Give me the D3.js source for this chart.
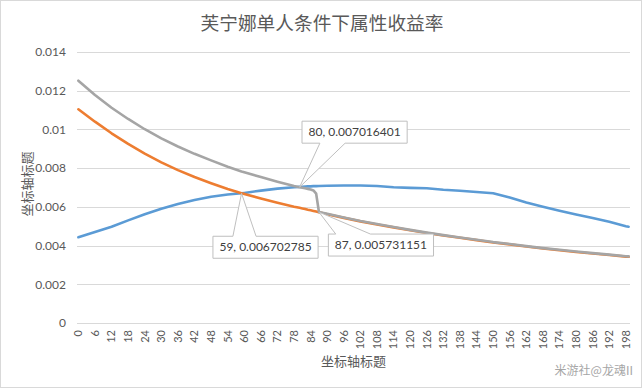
<!DOCTYPE html>
<html>
<head>
<meta charset="utf-8">
<script src="https://cdn.jsdelivr.net/npm/d3@7/dist/d3.min.js"></script>
<style>
body { margin: 0; background: #fff; }
svg { display: block; }
.cjk { font-family: "Noto Sans CJK SC", sans-serif; fill: #595959; }
.num { font-family: Lato, "Liberation Sans", sans-serif; fill: #595959; }
</style>
</head>
<body>
<svg id="chart" width="644" height="389"></svg>
<script>
// categories on the x axis (0..199), only every 6th one gets a label
const categories = d3.range(0, 200);
const xTickLabels = d3.range(0, 200, 6);
const yTicks = [0, 0.002, 0.004, 0.006, 0.008, 0.01, 0.012, 0.014];

const sampleIdx = [0, 6, 12, 18, 24, 30, 36, 42, 48, 54, 59, 60, 66, 72, 78, 80, 81, 82, 83, 84, 85, 86, 87,
    90, 96, 102, 108, 114, 120, 126, 132, 138, 144, 150, 156, 162, 168, 174, 180, 186, 192, 198, 199];

const blueValues = [0.00443, 0.00470, 0.00497, 0.00530, 0.00562, 0.00590, 0.00615, 0.00635, 0.00652, 0.00664,
    0.006703, 0.00672, 0.00684, 0.00694, 0.00701, 0.00703, 0.00704, 0.00705, 0.00706, 0.00706, 0.00707, 0.00707, 0.00708,
    0.00709, 0.00710, 0.00710, 0.00708, 0.00701, 0.00698, 0.00696, 0.00688, 0.00683, 0.00677, 0.00670, 0.00648,
    0.00622, 0.00600, 0.00580, 0.00561, 0.00542, 0.00523, 0.00500, 0.00497];

const orangeValues = [0.01104, 0.01040, 0.00980, 0.00925, 0.00875, 0.00830, 0.00790, 0.00754, 0.00722, 0.00692,
    0.006703, 0.00667, 0.00643, 0.00621, 0.00601, 0.00595, 0.00592, 0.00589, 0.00585, 0.00582, 0.00579, 0.00576, 0.00572,
    0.00562, 0.00543, 0.00525, 0.00509, 0.00494, 0.00479, 0.00465, 0.00452, 0.00440, 0.00428, 0.00416, 0.00406,
    0.00395, 0.00385, 0.00376, 0.00367, 0.00359, 0.00351, 0.00343, 0.00342];

const grayValues = [0.01252, 0.01178, 0.01112, 0.01054, 0.01001, 0.00954, 0.00912, 0.00874, 0.00840, 0.00807,
    0.00783, 0.00779, 0.00754, 0.00730, 0.00708, 0.007016, 0.00699, 0.00696, 0.00693, 0.00690, 0.00685, 0.00668, 0.005731,
    0.00564, 0.00545, 0.00527, 0.00511, 0.00496, 0.00481, 0.00467, 0.00454, 0.00442, 0.00430, 0.00418, 0.00408,
    0.00397, 0.00387, 0.00378, 0.00369, 0.00361, 0.00353, 0.00345, 0.00344];

// data labels shown on the chart
const calloutIdx = [80, 59, 87];
const calloutValues = [0.007016401, 0.006702785, 0.005731151];

class YieldChart {

    constructor(svg) {
        this._svg = svg;
        this.plot = { left: 77, right: 630, top: 52, bottom: 323 };

        this.series = [
            { values: blueValues, color: "#5b9bd5" },
            { values: orangeValues, color: "#ed7d31" },
            { values: grayValues, color: "#a5a5a5" }
        ];

        // box offset from the point, wedge base as fraction of box width, which edge
        this.calloutLayout = {
            80: { dx: 55, dy: -55, a: 0.17, b: 0.41, edge: "bottom" },
            59: { dx: 24, dy: 54, a: 0.19, b: 0.41, edge: "top" },
            87: { dx: 62, dy: 33, a: 0.07, b: 0.40, edge: "top" }
        };
    }

    ///////////////////////////////////////////////////////////////////////////
    // Drawing
    ///////////////////////////////////////////////////////////////////////////

    draw() {
        this.x = d3.scaleBand()
            .domain(categories)
            .range([this.plot.left, this.plot.right]);

        this.y = d3.scaleLinear()
            .domain([0, 0.014])
            .range([this.plot.bottom, this.plot.top]);

        this.drawFrame();
        this.drawGrid();
        this.drawAxes();
        this.drawSeries();
        this.drawCallouts();
    }

    cx(i) {
        return this.x(i) + this.x.bandwidth() / 2;
    }

    drawFrame() {
        this._svg.append("rect")
            .attr("x", 0.5).attr("y", 0.5)
            .attr("width", 641).attr("height", 387)
            .attr("fill", "#fff")
            .attr("stroke", "#d9d9d9");

        this._svg.append("text")
            .attr("class", "cjk")
            .attr("x", 322).attr("y", 30)
            .attr("text-anchor", "middle")
            .style("font-size", "18.7px")
            .text("芙宁娜单人条件下属性收益率");

        this._svg.append("text")
            .attr("class", "cjk")
            .attr("transform", "translate(32,184) rotate(-90)")
            .attr("text-anchor", "middle")
            .style("font-size", "13px")
            .text("坐标轴标题");

        this._svg.append("text")
            .attr("class", "cjk")
            .attr("x", (this.plot.left + this.plot.right) / 2).attr("y", 366)
            .attr("text-anchor", "middle")
            .style("font-size", "13px")
            .text("坐标轴标题");

        this._svg.append("text")
            .attr("class", "cjk")
            .attr("x", 633).attr("y", 375)
            .attr("text-anchor", "end")
            .style("font-size", "12px")
            .style("fill", "#a6a6a6")
            .text("米游社@龙魂II");
    }

    drawGrid() {
        this._svg.append("g")
            .selectAll("line")
            .data(yTicks)
            .join("line")
                .attr("x1", this.plot.left)
                .attr("x2", this.plot.right)
                .attr("y1", d => Math.round(this.y(d)) + 0.5)
                .attr("y2", d => Math.round(this.y(d)) + 0.5)
                .attr("stroke", "#d9d9d9");
    }

    drawAxes() {
        let yAxis = this._svg.append("g")
            .attr("transform", "translate(" + this.plot.left + ",0)")
            .call(d3.axisLeft(this.y).tickValues(yTicks).tickSize(0).tickPadding(11).tickFormat(d => String(d)));
        yAxis.select(".domain").remove();
        yAxis.selectAll("text")
            .attr("class", "num")
            .style("font-size", "12px");

        let xAxis = this._svg.append("g")
            .attr("transform", "translate(0," + this.plot.bottom + ")")
            .call(d3.axisBottom(this.x).tickValues(xTickLabels).tickSize(0));
        xAxis.select(".domain").remove();
        xAxis.selectAll("text")
            .attr("class", "num")
            .style("font-size", "11px")
            .attr("transform", "rotate(-90)")
            .attr("text-anchor", "end")
            .attr("x", -7)
            .attr("y", 0)
            .attr("dy", "0.35em");
    }

    drawSeries() {
        let line = d3.line()
            .x((d, k) => this.cx(sampleIdx[k]))
            .y(d => this.y(d));

        this._svg.append("g")
            .selectAll("path")
            .data(this.series)
            .join("path")
                .attr("d", d => line(d.values))
                .attr("fill", "none")
                .attr("stroke", d => d.color)
                .attr("stroke-width", 2.6)
                .attr("stroke-linejoin", "round")
                .attr("stroke-linecap", "round");
    }

    drawCallouts() {
        let g = this._svg.append("g");

        calloutIdx.forEach((idx, k) => {
            let lay = this.calloutLayout[idx];
            let px = this.cx(idx), py = this.y(calloutValues[k]);
            let label = idx + ", " + calloutValues[k];

            let shape = g.append("path");
            let txt = g.append("text")
                .attr("class", "num")
                .attr("text-anchor", "middle")
                .style("font-size", "12px")
                .style("fill", "#404040")
                .text(label);

            let w = txt.node().getComputedTextLength() + 13, h = 22;
            let L = px + lay.dx - w / 2, R = L + w;
            let T = py + lay.dy - h / 2, B = T + h;
            let b1 = L + w * lay.a, b2 = L + w * lay.b;

            let d;
            if (lay.edge === "bottom")
                d = "M" + L + "," + T + "H" + R + "V" + B + "H" + b2 + "L" + px + "," + py + "L" + b1 + "," + B + "H" + L + "Z";
            else
                d = "M" + L + "," + T + "H" + b1 + "L" + px + "," + py + "L" + b2 + "," + T + "H" + R + "V" + B + "H" + L + "Z";

            shape.attr("d", d)
                .attr("fill", "#fff")
                .attr("stroke", "#bfbfbf")
                .attr("stroke-width", 1);

            txt.attr("x", (L + R) / 2).attr("y", (T + B) / 2 + 4.2);
        });
    }
}

new YieldChart(d3.select("#chart")).draw();
</script>
</body>
</html>
